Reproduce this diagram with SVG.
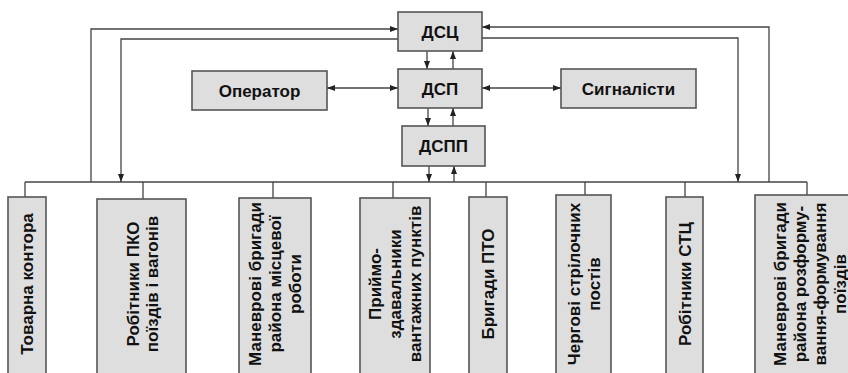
<svg xmlns="http://www.w3.org/2000/svg" width="848" height="373" viewBox="0 0 848 373">
<style>
.box{fill:#dedede;stroke:#555;stroke-width:1.6}
.t{font-family:"Liberation Sans",Arial,sans-serif;font-weight:bold;font-size:17px;fill:#111;text-anchor:middle;dominant-baseline:central}
.c{fill:none;stroke:#444;stroke-width:1.3}
</style>
<defs>
<marker id="ah" viewBox="0 0 8 6" refX="8" refY="3" markerWidth="8" markerHeight="6" markerUnits="userSpaceOnUse" orient="auto-start-reverse">
<path d="M0,0 L8,3 L0,6 z" fill="#222"/>
</marker>
</defs>
<rect width="848" height="373" fill="#fff"/>
<g id="connectors">
<path class="c" d="M25,182 H807"/>
<path class="c" d="M25,182 V197 M143,182 V199 M273,182 V198 M393,182 V198 M486,182 V197 M585,182 V195 M685,182 V197 M807,182 V195"/>
<path class="c" d="M91,182 V29 H398" marker-end="url(#ah)"/>
<path class="c" d="M398,39 H121 V182" marker-end="url(#ah)"/>
<path class="c" d="M769,182 V27 H482" marker-end="url(#ah)"/>
<path class="c" d="M482,38 H738 V182" marker-end="url(#ah)"/>
<path class="c" d="M427,51 V69" marker-end="url(#ah)"/>
<path class="c" d="M453,69 V51" marker-end="url(#ah)"/>
<path class="c" d="M428,108 V126" marker-end="url(#ah)"/>
<path class="c" d="M453,126 V108" marker-end="url(#ah)"/>
<path class="c" d="M429,166 V182" marker-end="url(#ah)"/>
<path class="c" d="M454,182 V166" marker-end="url(#ah)"/>
<path class="c" d="M327,88 H398" marker-start="url(#ah)" marker-end="url(#ah)"/>
<path class="c" d="M482,88 H561" marker-start="url(#ah)" marker-end="url(#ah)"/>
</g>
<g id="dsc"><rect class="box" x="398" y="12" width="84" height="39"/><text class="t" x="440" y="32">ДСЦ</text></g>
<g id="dsp"><rect class="box" x="398" y="69" width="84" height="39"/><text class="t" x="440" y="89">ДСП</text></g>
<g id="dspp"><rect class="box" x="402" y="126" width="83" height="40"/><text class="t" x="443.5" y="146">ДСПП</text></g>
<g id="operator"><rect class="box" x="192" y="71" width="135" height="39"/><text class="t" x="259.5" y="91">Оператор</text></g>
<g id="signal"><rect class="box" x="561" y="69" width="135" height="39"/><text class="t" x="628.5" y="89">Сигналісти</text></g>
<g id="b1"><rect class="box" x="8" y="197" width="38" height="190"/>
<g transform="translate(27,284) rotate(-90)"><text class="t" x="0" y="0">Товарна контора</text></g></g>
<g id="b2"><rect class="box" x="97" y="199" width="89" height="190"/>
<g transform="translate(142,284) rotate(-90)"><text class="t" x="0" y="-9">Робітники ПКО</text><text class="t" x="0" y="10">поїздів і вагонів</text></g></g>
<g id="b3"><rect class="box" x="239" y="198" width="72" height="190"/>
<g transform="translate(275,284) rotate(-90)"><text class="t" x="0" y="-20">Маневрові бригади</text><text class="t" x="0" y="0">района місцевої</text><text class="t" x="0" y="20">роботи</text></g></g>
<g id="b4"><rect class="box" x="360" y="198" width="70" height="190"/>
<g transform="translate(395,284) rotate(-90)"><text class="t" x="0" y="-20">Приймо-</text><text class="t" x="0" y="0">здавальники</text><text class="t" x="0" y="20">вантажних пунктів</text></g></g>
<g id="b5"><rect class="box" x="469" y="197" width="38" height="190"/>
<g transform="translate(488,284) rotate(-90)"><text class="t" x="0" y="0">Бригади ПТО</text></g></g>
<g id="b6"><rect class="box" x="556" y="195" width="55" height="190"/>
<g transform="translate(584,284) rotate(-90)"><text class="t" x="0" y="-10">Чергові стрілочних</text><text class="t" x="0" y="10">постів</text></g></g>
<g id="b7"><rect class="box" x="666" y="197" width="37" height="190"/>
<g transform="translate(685,284) rotate(-90)"><text class="t" x="0" y="0">Робітники СТЦ</text></g></g>
<g id="b8"><rect class="box" x="755" y="195" width="108" height="190"/>
<g transform="translate(810,284) rotate(-90)"><text class="t" x="0" y="-30">Маневрові бригади</text><text class="t" x="0" y="-10">района розформу-</text><text class="t" x="0" y="10">вання-формування</text><text class="t" x="0" y="30">поїздів</text></g></g>
</svg>
